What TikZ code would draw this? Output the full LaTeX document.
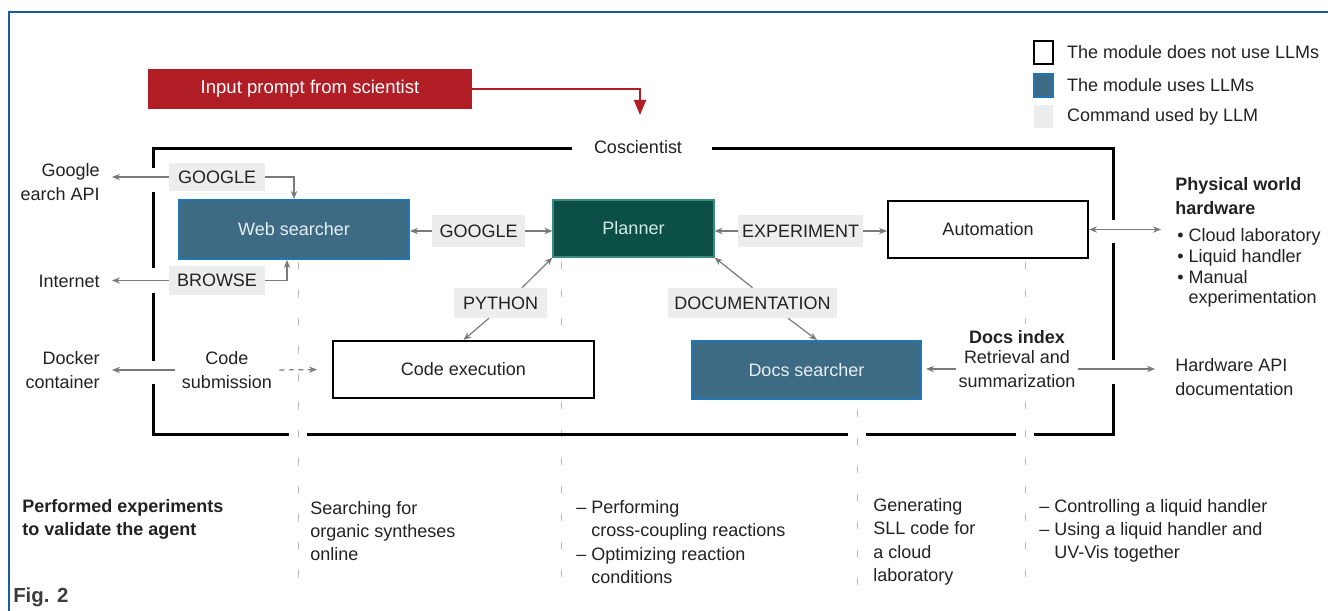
\documentclass[tikz,border=0pt]{standalone}
\usepackage{fontspec}
\setmainfont{Liberation Sans}
\usetikzlibrary{arrows.meta,positioning}

\definecolor{llmblue}{HTML}{3D6B84}
\definecolor{llmedge}{HTML}{1F77B8}
\definecolor{llmtext}{HTML}{E6EEF2}
\definecolor{plannerfill}{HTML}{0B4F47}
\definecolor{planneredge}{HTML}{3A8C7E}
\definecolor{plannertext}{HTML}{D3ECE5}
\definecolor{promptred}{HTML}{B11E26}
\definecolor{cmdgray}{HTML}{ECEDED}
\definecolor{frameblue}{HTML}{1B5C9E}
\definecolor{arrowgray}{HTML}{7A7A7A}
\definecolor{guidegray}{HTML}{B8B8B8}
\definecolor{inkgray}{HTML}{222222}
\definecolor{figgray}{HTML}{3C3C3C}

\begin{document}
\begin{tikzpicture}[x=0.25mm,y=-0.25mm]
\tikzset{
  txt/.style={inner sep=0pt,text=inkgray,font=\fontsize{12.8}{16.6}\selectfont},
  boldtxt/.style={txt,font=\fontsize{12.8}{16.6}\selectfont\bfseries},
  plainmod/.style={rectangle,draw=black,line width=0.5mm,fill=white,inner sep=0pt,text=inkgray,font=\fontsize{12.8}{16.6}\selectfont},
  llmmod/.style={plainmod,draw=llmedge,fill=llmblue,text=llmtext},
  plannermod/.style={plainmod,draw=planneredge,line width=0.3mm,fill=plannerfill,text=plannertext},
  cmdbox/.style={rectangle,fill=cmdgray,inner sep=0pt,minimum height=7.5mm,text=inkgray,font=\fontsize{12.8}{16.6}\selectfont},
  promptbox/.style={rectangle,fill=promptred,inner sep=0pt,minimum width=81mm,minimum height=10mm,text=white,font=\fontsize{13.2}{16.6}\selectfont},
  legbox/.style={rectangle,inner sep=0pt,minimum width=4.75mm,minimum height=5.75mm,line width=0.4mm},
  cmdarrow/.style={draw=arrowgray,line width=0.3mm,-{Stealth[length=2mm,width=1.6mm]}},
  bothways/.style={cmdarrow,{Stealth[length=2mm,width=1.6mm]}-{Stealth[length=2mm,width=1.6mm]}},
  promptarrow/.style={draw=promptred,line width=0.5mm,-{Triangle[length=3.75mm,width=3mm]}},
  framebar/.style={draw=black,line width=0.75mm},
  guide/.style={draw=guidegray,line width=0.25mm,dash pattern=on 1.75mm off 5.25mm}
}
\useasboundingbox (0,0) rectangle (1328,611);
\draw[frameblue,line width=0.4mm] (9,611) -- (9,12) -- (1328,12);
\draw[guide] (298,262) -- (298,577);
\draw[guide] (561,262) -- (561,592);
\draw[guide] (857,410) -- (857,592);
\draw[guide] (1025,262) -- (1025,580);
\draw[framebar] (572,149) -- (153,149) -- (153,168);
\draw[framebar] (153,192) -- (153,268);
\draw[framebar] (153,293) -- (153,361);
\draw[framebar] (153,384) -- (153,434) -- (289,434);
\draw[framebar] (307,434) -- (848,434);
\draw[framebar] (866,434) -- (1016,434);
\draw[framebar] (1034,434) -- (1113,434) -- (1113,384);
\draw[framebar] (1113,243) -- (1113,360);
\draw[framebar] (712,149) -- (1113,149) -- (1113,220);
\node[promptbox] (n_prompt) at (310,89) {Input prompt from scientist};
\node[txt] (n_cosc) at (638,147) {Coscientist};
\coordinate (c_cosc) at (640,115);
\node[llmmod,minimum width=57.5mm,minimum height=14.75mm] (n_web) at (294,229.5) {Web searcher};
\node[plannermod,minimum width=40.25mm,minimum height=14.25mm] (n_planner) at (633.5,228.5) {Planner};
\node[plainmod,minimum width=50mm,minimum height=14.25mm] (n_auto) at (988,229.5) {Automation};
\node[plainmod,minimum width=65.25mm,minimum height=14.25mm] (n_code) at (463.5,369.5) {Code execution};
\node[llmmod,minimum width=57.25mm,minimum height=14.5mm] (n_docs) at (806.5,370) {Docs searcher};
\node[cmdbox,minimum width=24mm,minimum height=7mm] (n_google1) at (217,177) {GOOGLE};
\node[cmdbox,minimum width=24mm,minimum height=7mm] (n_browse) at (217,280.5) {BROWSE};
\node[cmdbox,minimum width=23.25mm,minimum height=8mm] (n_google2) at (478.5,231) {GOOGLE};
\node[cmdbox,minimum width=31.25mm,minimum height=8mm] (n_experiment) at (800.5,231) {EXPERIMENT};
\node[cmdbox,minimum width=23.25mm] (n_python) at (500.5,303) {PYTHON};
\node[cmdbox,minimum width=42.25mm] (n_documentation) at (752.5,303) {DOCUMENTATION};
\node[txt,align=right,anchor=east] (n_gapi) at (100,182) {Google\\earch API};
\node[txt,anchor=east] (n_internet) at (100,281) {Internet};
\node[txt,align=right,anchor=east] (n_docker) at (100,370) {Docker\\container};
\node[txt,align=center] (n_codesub) at (227,370) {Code\\submission};
\node[boldtxt,fill=white,inner ysep=1.5mm,inner xsep=0.5mm] (n_docsindex) at (1017,337) {Docs index};
\node[txt,align=center,fill=white,inner ysep=1.5mm,inner xsep=0.5mm] (n_retrieval) at (1017,369) {Retrieval and\\summarization};
\node[txt,align=left,anchor=west] (n_hwapi) at (1175,377) {Hardware API\\documentation};
\node[boldtxt,align=left,anchor=west] (n_physical) at (1175,196) {Physical world\\hardware};
\node[txt,align=left,anchor=west,font=\fontsize{12.8}{14.8}\selectfont] (n_hwlist) at (1177,268) {• Cloud laboratory\\• Liquid handler\\• Manual\\\hphantom{• }experimentation};
\coordinate (c_hw) at (1161,229.5);
\node[legbox,draw=black,fill=white] (n_leg1) at (1043.5,52.5) {};
\node[legbox,draw=llmedge,fill=llmblue] (n_leg2) at (1043.5,85.5) {};
\node[legbox,fill=cmdgray] (n_leg3) at (1043.5,117) {};
\node[txt,right=3.25mm of n_leg1] (n_legtxt1) {The module does not use LLMs};
\node[txt,right=3.25mm of n_leg2] (n_legtxt2) {The module uses LLMs};
\node[txt,right=3.25mm of n_leg3] (n_legtxt3) {Command used by LLM};
\node[boldtxt,align=left,anchor=west] (n_performed) at (22,519.5) {Performed experiments\\to validate the agent};
\node[txt,align=left,anchor=west] (n_exp1) at (310,531) {Searching for\\organic syntheses\\online};
\node[txt,align=left,anchor=west] (n_exp2) at (576,542) {– Performing\\\hphantom{– }cross-coupling reactions\\– Optimizing reaction\\\hphantom{– }conditions};
\node[txt,align=left,anchor=west] (n_exp3) at (873,542) {Generating\\SLL code for\\a cloud\\laboratory};
\node[txt,align=left,anchor=west] (n_exp4) at (1039,531) {– Controlling a liquid handler\\– Using a liquid handler and\\\hphantom{– }UV-Vis together};
\node[boldtxt,anchor=west,text=figgray,font=\fontsize{14.5}{16}\selectfont\bfseries] (n_fig) at (13,597) {Fig. 2};
\draw[promptarrow] (n_prompt.east) -| (c_cosc);
\draw[cmdarrow] (n_google1.east) -| (n_web.north);
\draw[cmdarrow,shorten >=3mm] (n_google1.west) -- (n_google1.west -| n_gapi.east);
\draw[cmdarrow] (n_browse.east) -| ([xshift=-1.75mm]n_web.south);
\draw[cmdarrow,shorten >=3mm] (n_browse.west) -- (n_browse.west -| n_internet.east);
\draw[cmdarrow] (n_google2.west) -- (n_google2.west -| n_web.east);
\draw[cmdarrow] (n_google2.east) -- (n_google2.east -| n_planner.west);
\draw[cmdarrow] (n_experiment.west) -- (n_experiment.west -| n_planner.east);
\draw[cmdarrow] (n_experiment.east) -- (n_experiment.east -| n_auto.west);
\draw[cmdarrow] ([xshift=5.4mm]n_python.north) -- (n_planner.south west);
\draw[cmdarrow] ([xshift=-2.9mm]n_python.south) -- (n_code.north);
\draw[cmdarrow] (n_documentation.north) -- (n_planner.south east);
\draw[cmdarrow] ([xshift=8.9mm]n_documentation.south) -- ([xshift=2.6mm]n_docs.north);
\draw[bothways] (n_auto.east) -- (c_hw);
\draw[cmdarrow,shorten >=1mm] (n_retrieval.west) -- (n_retrieval.west -| n_docs.east);
\draw[cmdarrow,shorten >=5mm] (n_retrieval.east) -- (n_retrieval.east -| n_hwapi.west);
\draw[cmdarrow,shorten <=1.75mm,shorten >=3mm] (n_codesub.west) -- (n_codesub.west -| n_docker.east);
\draw[cmdarrow,dash pattern=on 1.2mm off 1.2mm,shorten <=1.75mm,shorten >=3.75mm] (n_codesub.east) -- (n_code.west);
\end{tikzpicture}
\end{document}
